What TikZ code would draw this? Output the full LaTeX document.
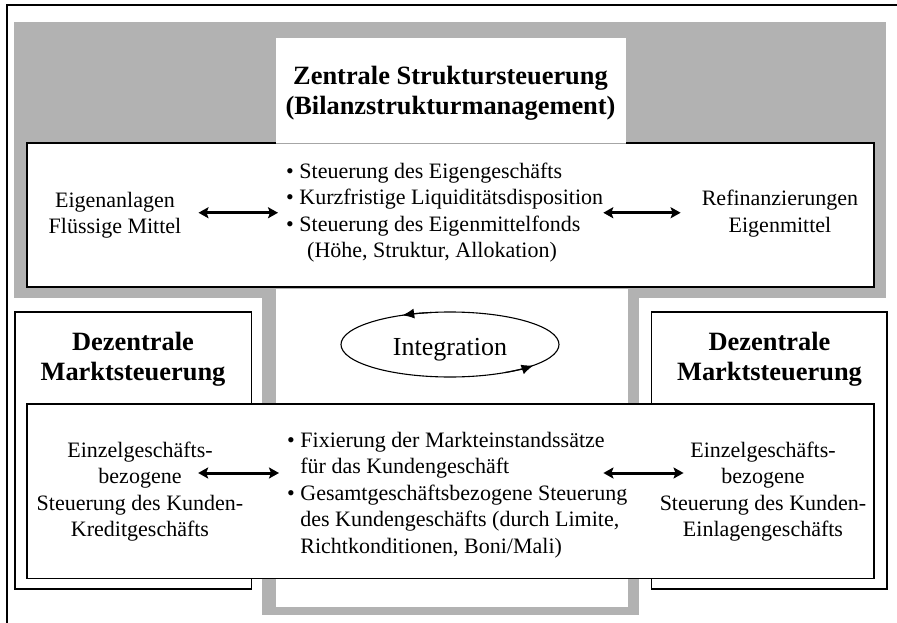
\documentclass[tikz,border=0pt]{standalone}
\usepackage{fontspec}
\setmainfont{Liberation Serif}
\usetikzlibrary{arrows.meta,shapes.geometric}
\definecolor{bandgray}{RGB}{178,178,178}
\begin{document}
\begin{tikzpicture}[x=1pt,y=-1pt,
  box/.style={draw=black, line width=1.3pt, fill=white},
  txt/.style={font=\fontsize{22}{26.4}\selectfont, align=center, inner sep=0pt},
  ttl/.style={font=\fontsize{26.4}{30.4}\selectfont\bfseries, align=center, inner sep=0pt},
  dbl/.style={{Stealth[length=10pt,width=11pt,inset=2pt]}-{Stealth[length=10pt,width=11pt,inset=2pt]}, line width=3pt},
  ellarrow/.style={-{Latex[length=12pt,width=10pt]}, line width=1.1pt},
]
\useasboundingbox (0,0) rectangle (897,623);
% outer frame (cropped at right and bottom)
\draw[line width=2pt] (6.5,623) -- (6.5,5) -- (897,5);
% gray band
\fill[bandgray] (14,22) rectangle (886,298);
\fill[bandgray] (262,298) rectangle (639,615);
\fill[white] (276,289) rectangle (628,607);
% top box
\draw[box] (27,143) rectangle (874,287);
\fill[white] (276,38) rectangle (626,142.2);
\draw[white, line width=1.5pt] (276,143) -- (626,143);
\draw[black!35, line width=0.6pt] (276,143) -- (626,143);
\node[ttl] (title) at (450.5,93) {Zentrale Struktursteuerung\\(Bilanzstrukturmanagement)};
% Dezentrale boxes
\draw[box] (15,312) rectangle (251.5,589);
\draw[box] (651.5,312) rectangle (887,589);
\node[ttl] (dzl) at (133,359) {Dezentrale\\Marktsteuerung};
\node[ttl] (dzr) at (769.5,359) {Dezentrale\\Marktsteuerung};
% lower box
\draw[box] (27,404) rectangle (874,578.5);
% top box contents
\node[txt] (eig) at (115,215) {Eigenanlagen\\Flüssige Mittel};
\node[txt, align=left, anchor=west] (bul) at (286,212.75) {\textbullet\ Steuerung des Eigengeschäfts\\
  \textbullet\ Kurzfristige Liquiditätsdisposition\\
  \textbullet\ Steuerung des Eigenmittelfonds\\
  \hspace*{21pt}(Höhe, Struktur, Allokation)};
\node[txt] (ref) at (780,213.5) {Refinanzierungen\\Eigenmittel};
\draw[dbl, shorten <=17pt, shorten >=8pt] (eig.east |- bul.west) -- (bul.west);
\draw[dbl, shorten >=21pt] (bul.east) -- (ref.west |- bul.east);
% integration ellipse
\node[draw, ellipse, line width=1.1pt, minimum width=218pt, minimum height=65pt, inner sep=0pt] (ell) at (450,344.5) {};
\node[txt, font=\fontsize{26}{30}\selectfont] (integ) at (450,349.5) {Integration};
\draw[ellarrow] ([shift={(100:109pt and 32.5pt)}]ell.center) arc[start angle=100, end angle=116, x radius=109pt, y radius=32.5pt];
\draw[ellarrow] ([shift={(300:109pt and 32.5pt)}]ell.center) arc[start angle=300, end angle=320, x radius=109pt, y radius=32.5pt];
% lower box contents
\node[txt] (kre) at (140,491.5) {Einzelgeschäfts-\\bezogene\\Steuerung des Kunden-\\Kreditgeschäfts};
\node[txt, align=left, anchor=west] (fix) at (287,495) {\textbullet\ Fixierung der Markteinstandssätze\\
  \phantom{\textbullet\ }für das Kundengeschäft\\
  \textbullet\ Gesamtgeschäftsbezogene Steuerung\\
  \phantom{\textbullet\ }des Kundengeschäfts (durch Limite,\\
  \phantom{\textbullet\ }Richtkonditionen, Boni/Mali)};
\node[txt] (ein) at (763,491.5) {Einzelgeschäfts-\\bezogene\\Steuerung des Kunden-\\Einlagengeschäfts};
\draw[dbl] ([xshift=-45.3pt,yshift=18.5pt]kre.east) -- ([xshift=-8pt,yshift=22pt]fix.west);
\draw[dbl] ([xshift=-24pt,yshift=22pt]fix.east) -- ([xshift=24pt,yshift=18.5pt]ein.west);
\end{tikzpicture}
\end{document}
